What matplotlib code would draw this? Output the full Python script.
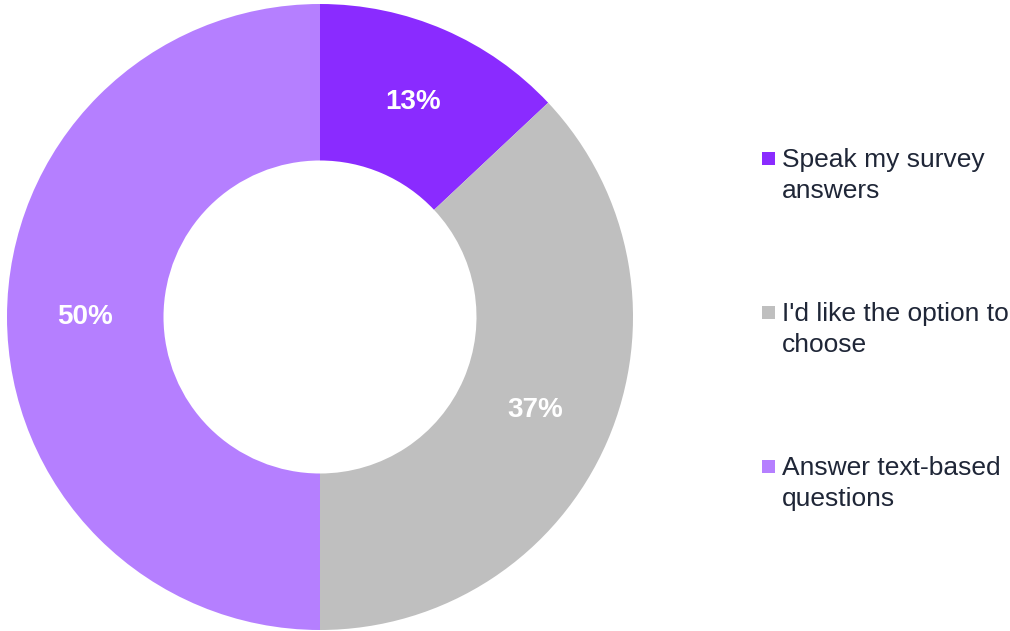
import matplotlib.pyplot as plt
from matplotlib.patches import Rectangle

# Survey preference shares
labels = ["Speak my survey\nanswers", "I'd like the option to\nchoose", "Answer text-based\nquestions"]
shares = [13, 37, 50]
colors = ["#8A2BFF", "#BFBFBF", "#B57FFF"]

W, H = 1010, 631
fig = plt.figure(figsize=(W / 100, H / 100), dpi=100)
ax = fig.add_axes([0, 0, 1, 1])

cx, cy, r = 320, H - 317, 313
wedges, texts, autotexts = ax.pie(
    shares, colors=colors, startangle=90, counterclock=False,
    center=(cx, cy), radius=r, wedgeprops=dict(width=r * 0.5, linewidth=0),
    autopct="%d%%", pctdistance=0.75, frame=True,
    textprops=dict(color="white", fontsize=20, fontweight="bold", family="Liberation Sans"))
ax.set_xlim(0, W)
ax.set_ylim(0, H)
ax.set_aspect("equal")
ax.axis("off")

# legend drawn by hand so the swatch sits on the first text line
for i, (lab, col) in enumerate(zip(labels, colors)):
    y = H - (158 + i * 154)
    ax.add_patch(Rectangle((762, y - 6.5), 13, 13, color=col, lw=0))
    ax.text(782, y - 17.5, lab, va="center", ha="left", fontsize=19, color="#1F2637",
            family="Liberation Sans", linespacing=1.37)

fig.savefig("out.png", dpi=100)
